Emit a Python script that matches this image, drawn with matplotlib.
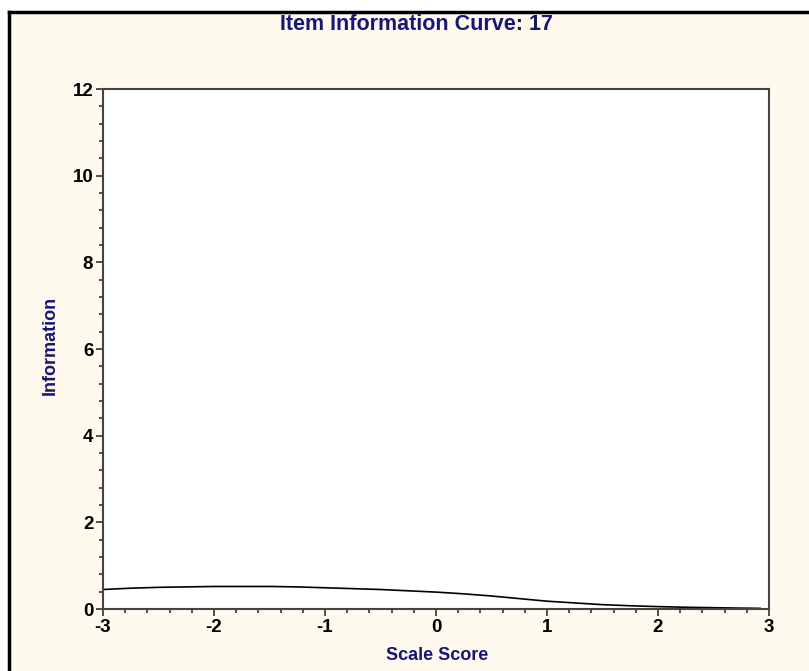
import matplotlib
matplotlib.use("Agg")
import matplotlib.pyplot as plt
from matplotlib.ticker import MultipleLocator
import matplotlib.font_manager as fm

theta = [-3.0, -2.75, -2.5, -2.25, -2.0, -1.75, -1.5, -1.25, -1.0, -0.75, -0.5, -0.25,
         0.0, 0.25, 0.5, 0.75, 1.0, 1.25, 1.5, 1.75, 2.0, 2.25, 2.5, 2.75, 2.92]
information = [0.45, 0.48, 0.50, 0.51, 0.52, 0.52, 0.52, 0.51, 0.49, 0.47, 0.45, 0.42,
               0.39, 0.35, 0.30, 0.24, 0.18, 0.14, 0.10, 0.075, 0.055, 0.04, 0.03, 0.02, 0.015]
x_ticks = [-3, -2, -1, 0, 1, 2, 3]
y_ticks = [0, 2, 4, 6, 8, 10, 12]
title = "Item Information Curve: 17"
xlabel = "Scale Score"
ylabel = "Information"

names = {f.name for f in fm.fontManager.ttflist}
fam = ["Liberation Sans Narrow"] if "Liberation Sans Narrow" in names else ["Liberation Sans"]
plt.rcParams['font.family'] = fam + ["DejaVu Sans"]
plt.rcParams['axes.unicode_minus'] = False

W, H = 809, 671
fig = plt.figure(figsize=(W / 100, H / 100), dpi=100)
fig.patch.set_facecolor("white")

# cream panel with black top and left borders
bg = plt.Rectangle((10 / W, 0), 1, 1 - 12 / H, transform=fig.transFigure,
                   facecolor="#FFF9EE", edgecolor="none", zorder=-10)
fig.patches.append(bg)
fig.add_artist(plt.Line2D([9 / W, 1], [1 - 12 / H, 1 - 12 / H], transform=fig.transFigure,
                          color="black", lw=2.5, zorder=-5))
fig.add_artist(plt.Line2D([9 / W, 9 / W], [0, 1 - 12 / H], transform=fig.transFigure,
                          color="black", lw=2.5, zorder=-5))

ax = fig.add_axes([103 / W, 1 - 609 / H, (769 - 103) / W, (609 - 89) / H])
ax.set_zorder(5)
ax.set_facecolor("white")
ax.plot(theta, information, color="black", lw=1.2)
ax.set_xlim(-3, 3)
ax.set_ylim(0, 12)
ax.set_xticks(x_ticks)
ax.set_yticks(y_ticks)
ax.xaxis.set_minor_locator(MultipleLocator(0.2))
ax.yaxis.set_minor_locator(MultipleLocator(0.4))
for s in ax.spines.values():
    s.set_color("#444444")
    s.set_linewidth(1.5)
ax.tick_params(axis="both", which="major", length=5, width=1.2, color="#333333",
               labelsize=13.5, pad=2)
ax.tick_params(axis="both", which="minor", length=3, width=1.2, color="#333333")
for lab in ax.get_xticklabels() + ax.get_yticklabels():
    lab.set_fontweight("bold")

fig.text(416 / W, 1 - 25 / H, title, ha="center", va="center", fontsize=15.5,
         fontweight="bold", color="#16167A")
fig.text(437 / W, 1 - 655 / H, xlabel, ha="center", va="center", fontsize=13,
         fontweight="bold", color="#16167A")
fig.text(50 / W, 1 - 345 / H, ylabel, ha="center", va="center", fontsize=13,
         fontweight="bold", color="#16167A", rotation=90)

fig.savefig("out.png", dpi=100, facecolor=fig.get_facecolor())
